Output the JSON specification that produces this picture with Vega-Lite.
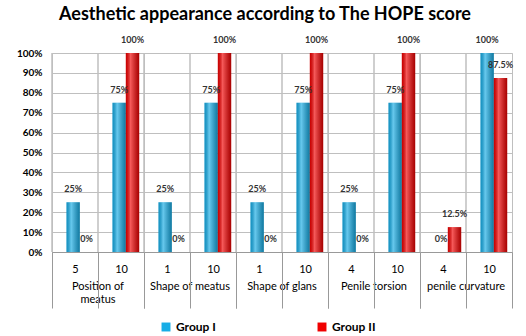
{
  "$schema": "https://vega.github.io/schema/vega-lite/v6.json",
  "background": "white",
  "padding": {"left": 16, "right": 8, "top": 5, "bottom": 2},
  "bounds": "flush",
  "title": {"text": "Aesthetic appearance according to The HOPE score", "anchor": "middle", "font": "Lato", "fontSize": 18, "fontWeight": "bold", "color": "#000000", "offset": 12},
  "config": {
    "font": "Lato",
    "view": {"stroke": "#bfbfbf", "strokeWidth": 1},
    "axis": {"labelFont": "Lato", "labelColor": "#000000", "gridColor": "#bfbfbf", "domainColor": "#999999", "tickColor": "#999999"}
  },
  "data": {"values": [
    {"cat": "Position of meatus", "score": 5, "group": "Group I", "value": 0.25},
    {"cat": "Position of meatus", "score": 5, "group": "Group II", "value": 0},
    {"cat": "Position of meatus", "score": 10, "group": "Group I", "value": 0.75},
    {"cat": "Position of meatus", "score": 10, "group": "Group II", "value": 1},
    {"cat": "Shape of meatus", "score": 1, "group": "Group I", "value": 0.25},
    {"cat": "Shape of meatus", "score": 1, "group": "Group II", "value": 0},
    {"cat": "Shape of meatus", "score": 10, "group": "Group I", "value": 0.75},
    {"cat": "Shape of meatus", "score": 10, "group": "Group II", "value": 1},
    {"cat": "Shape of glans", "score": 1, "group": "Group I", "value": 0.25},
    {"cat": "Shape of glans", "score": 1, "group": "Group II", "value": 0},
    {"cat": "Shape of glans", "score": 10, "group": "Group I", "value": 0.75},
    {"cat": "Shape of glans", "score": 10, "group": "Group II", "value": 1},
    {"cat": "Penile torsion", "score": 4, "group": "Group I", "value": 0.25},
    {"cat": "Penile torsion", "score": 4, "group": "Group II", "value": 0},
    {"cat": "Penile torsion", "score": 10, "group": "Group I", "value": 0.75},
    {"cat": "Penile torsion", "score": 10, "group": "Group II", "value": 1},
    {"cat": "penile curvature", "score": 4, "group": "Group I", "value": 0},
    {"cat": "penile curvature", "score": 4, "group": "Group II", "value": 0.125},
    {"cat": "penile curvature", "score": 10, "group": "Group I", "value": 1},
    {"cat": "penile curvature", "score": 10, "group": "Group II", "value": 0.875}
  ]},
  "facet": {
    "column": {
      "field": "cat", "type": "nominal",
      "sort": ["Position of meatus", "Shape of meatus", "Shape of glans", "Penile torsion", "penile curvature"],
      "header": {"title": null, "labelOrient": "bottom", "labelPadding": 29, "labelFont": "Lato", "labelFontSize": 11, "labelColor": "#000000", "labelBaseline": "top", "labelLineHeight": 13,
        "labelExpr": "datum.value == 'Position of meatus' ? ['Position of', 'meatus'] : datum.value"}
    }
  },
  "spacing": 0,
  "resolve": {"scale": {"x": "independent", "xOffset": "independent"}, "axis": {"x": "independent"}},
  "spec": {
    "width": 92,
    "height": 199,
    "layer": [
      {
        "mark": {"type": "rule", "color": "#bfbfbf", "strokeWidth": 1},
        "encoding": {
          "x": {"field": "score", "type": "ordinal", "bandPosition": 0, "scale": {"paddingInner": 0, "paddingOuter": 0},
            "axis": {"title": null, "labelAngle": 0, "labelFontSize": 11, "labelPadding": -45, "grid": false, "tickBand": "extent", "tickSize": 56, "domain": true,
              "tickColor": {"condition": {"test": "datum.index > 0.4 && datum.index < 0.6", "value": "transparent"}, "value": "#999999"}}},
          "y": {"datum": 0, "type": "quantitative", "scale": {"domain": [0, 1], "nice": false},
            "axis": {"title": null, "values": [0,0.1,0.2,0.3,0.4,0.5,0.6,0.7,0.8,0.9,1], "format": ".0%", "labelFontWeight": "bold", "labelFontSize": 10, "ticks": false, "labelPadding": 10, "grid": true}},
          "y2": {"datum": 1}
        }
      },
      {
        "mark": {"type": "bar"},
        "encoding": {
          "x": {"field": "score", "type": "ordinal"},
          "xOffset": {"field": "group", "type": "nominal", "sort": ["Group I", "Group II"], "scale": {"paddingInner": 0, "paddingOuter": 0.72, "align": 0.75}},
          "y": {"field": "value", "type": "quantitative", "scale": {"domain": [0, 1], "nice": false},
            "axis": {"title": null, "values": [0,0.1,0.2,0.3,0.4,0.5,0.6,0.7,0.8,0.9,1], "format": ".0%", "labelFontWeight": "bold", "labelFontSize": 10, "ticks": false, "labelPadding": 10, "grid": true}},
          "color": {"field": "group", "type": "nominal", "scale": {"domain": ["Group I", "Group II"], "range": ["#17ADE6", "#F00000"]},
            "legend": {"title": null, "orient": "none", "legendX": 108, "legendY": 268, "direction": "horizontal", "symbolType": "square", "symbolSize": 80, "labelFontSize": 12, "labelFontWeight": "bold", "labelFont": "Lato", "columnPadding": 100}}
        }
      },
      {
        "mark": {"type": "bar", "fill": {"gradient": "linear", "x1": 0, "x2": 1, "y1": 0, "y2": 0, "stops": [
          {"offset": 0, "color": "rgba(0,0,0,0.15)"},
          {"offset": 0.35, "color": "rgba(255,255,255,0.35)"},
          {"offset": 1, "color": "rgba(0,0,0,0.3)"}]}},
        "encoding": {
          "x": {"field": "score", "type": "ordinal"},
          "xOffset": {"field": "group", "type": "nominal", "sort": ["Group I", "Group II"], "scale": {"paddingInner": 0, "paddingOuter": 0.72, "align": 0.75}},
          "y": {"field": "value", "type": "quantitative", "scale": {"domain": [0, 1], "nice": false},
            "axis": {"title": null, "values": [0,0.1,0.2,0.3,0.4,0.5,0.6,0.7,0.8,0.9,1], "format": ".0%", "labelFontWeight": "bold", "labelFontSize": 10, "ticks": false, "labelPadding": 10, "grid": true}}
        }
      },
      {
        "mark": {"type": "text", "baseline": "bottom", "dy": -8, "fontSize": 9, "fontWeight": "bold", "color": "#333333"},
        "encoding": {
          "x": {"field": "score", "type": "ordinal"},
          "xOffset": {"field": "group", "type": "nominal", "sort": ["Group I", "Group II"], "scale": {"paddingInner": 0, "paddingOuter": 0.72, "align": 0.75}},
          "y": {"field": "value", "type": "quantitative", "scale": {"domain": [0, 1], "nice": false},
            "axis": {"title": null, "values": [0,0.1,0.2,0.3,0.4,0.5,0.6,0.7,0.8,0.9,1], "format": ".0%", "labelFontWeight": "bold", "labelFontSize": 10, "ticks": false, "labelPadding": 10, "grid": true}},
          "text": {"field": "value", "type": "quantitative", "format": ".1~%"}
        }
      }
    ]
  }
}
